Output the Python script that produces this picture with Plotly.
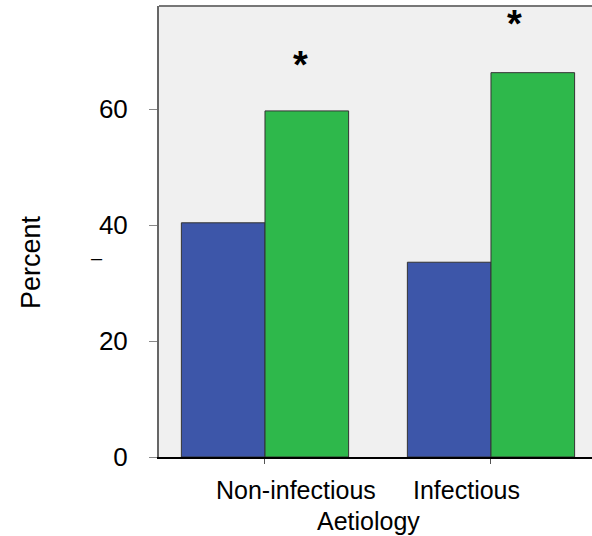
import plotly.graph_objects as go

categories = ["Non-infectious", "Infectious"]
group_a = [40.4, 33.6]   # blue
group_b = [59.7, 66.3]   # green
y_ticks = [0, 20, 40, 60]
star_y = [68.8, 75.9]
star_x_offset = [0.159, 0.102]

W, H = 592, 536
L, R, T, B = 159, 0, 6, 79
x_range = [-0.469, 1.447]
y_range = [0, 77.8]

fig = go.Figure()
fig.add_trace(go.Bar(x=[0, 1], y=group_a, marker=dict(color="#3D56A9", line=dict(color="#333333", width=1)),
                     showlegend=False))
fig.add_trace(go.Bar(x=[0, 1], y=group_b, marker=dict(color="#2EB84B", line=dict(color="#333333", width=1)),
                     showlegend=False))

font = "Liberation Sans, Arial, sans-serif"

# asterisks
for i, (dx, sy) in enumerate(zip(star_x_offset, star_y)):
    fig.add_annotation(x=i + dx, y=sy, xref="x", yref="y", text="<b>*</b>", showarrow=False,
                       font=dict(family=font, size=38, color="black"), yshift=-7)

# category labels (offset as in reference)
shifts = [31, -24]
for i, (c, s) in enumerate(zip(categories, shifts)):
    fig.add_annotation(x=i, y=0, xref="x", yref="paper", text=c, showarrow=False, xshift=s,
                       yanchor="middle", yshift=-33, font=dict(family=font, size=25, color="black"))

fig.add_annotation(x=(368 - L) / (W - L - R), y=(H - B - 521) / (H - T - B), xref="paper", yref="paper",
                   text="Aetiology", showarrow=False, yanchor="middle",
                   font=dict(family=font, size=25, color="black"))
fig.add_annotation(x=(31 - L) / (W - L - R), y=(H - B - 262) / (H - T - B), xref="paper", yref="paper",
                   text="Percent", showarrow=False, textangle=-90, xanchor="center", yanchor="middle",
                   font=dict(family=font, size=27, color="black"))
fig.add_annotation(x=(97 - L) / (W - L - R), y=(H - B - 258) / (H - T - B), xref="paper", yref="paper",
                   text="–", showarrow=False, xanchor="center", yanchor="middle",
                   font=dict(family=font, size=20, color="black"))

# top border
fig.add_shape(type="line", xref="paper", yref="paper", x0=0, x1=1, y0=1, y1=1,
              line=dict(color="#777777", width=2))

fig.update_layout(
    width=W, height=H,
    margin=dict(l=L, r=R, t=T, b=B),
    paper_bgcolor="white", plot_bgcolor="#F0F0F0",
    barmode="group", bargap=0.26, bargroupgap=0,
    xaxis=dict(range=x_range, tickmode="array", tickvals=[0, 1], showticklabels=False,
               ticks="outside", ticklen=5, tickcolor="#555555", showgrid=False, zeroline=False,
               showline=True, linecolor="black", linewidth=1.5),
    yaxis=dict(range=y_range, tickmode="array", tickvals=y_ticks, ticks="outside", ticklen=8,
               tickcolor="#888888", showgrid=False, zeroline=False, showline=True,
               linecolor="#666666", linewidth=2, ticklabelstandoff=16,
               tickfont=dict(family=font, size=26, color="black")),
)

fig.write_html("out.html")
